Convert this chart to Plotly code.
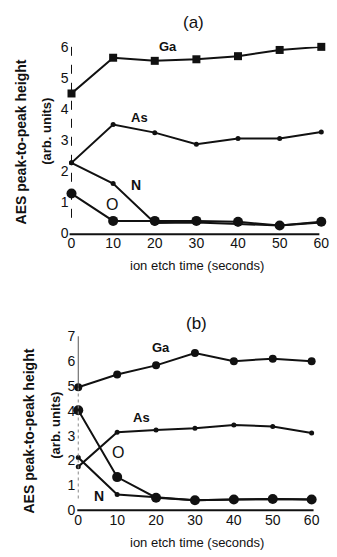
import plotly.graph_objects as go

W, H = 337, 557

# ---- data ----
time_s = [0, 10, 20, 30, 40, 50, 60]
x_ticks = [0, 10, 20, 30, 40, 50, 60]

a_Ga = [4.5, 5.65, 5.55, 5.6, 5.7, 5.9, 6.0]
a_As = [2.27, 3.5, 3.24, 2.87, 3.05, 3.05, 3.26]
a_N = [2.27, 1.6, 0.33, 0.35, 0.3, 0.25, 0.35]
a_O = [1.28, 0.4, 0.4, 0.4, 0.37, 0.25, 0.37]
a_yticks = [0, 1, 2, 3, 4, 5, 6]

b_Ga = [4.95, 5.46, 5.83, 6.33, 6.0, 6.1, 6.0]
b_As = [1.75, 3.14, 3.23, 3.3, 3.43, 3.37, 3.11]
b_O = [4.02, 1.33, 0.5, 0.4, 0.43, 0.45, 0.43]
b_N = [2.12, 0.63, 0.52, 0.4, 0.43, 0.45, 0.43]
b_yticks = [0, 1, 2, 3, 4, 5, 6, 7]

FONT = "Liberation Sans"
INK = "#111111"


def px(x):
    return x / W


def py(y):
    return 1 - y / H


fig = go.Figure()

def add_series(xs, ys, xa, ya, size, symbol="circle", width=2):
    fig.add_trace(go.Scatter(
        x=xs, y=ys, xaxis=xa, yaxis=ya, mode="lines+markers",
        line=dict(color=INK, width=width),
        marker=dict(color=INK, size=size, symbol=symbol),
        cliponaxis=False, showlegend=False, hoverinfo="skip"))

# panel (a)
add_series(time_s, a_Ga, "x", "y", 8, "square")
add_series(time_s, a_As, "x", "y", 5)
add_series(time_s, a_N, "x", "y", 5)
add_series(time_s, a_O, "x", "y", 10)
# panel (b)
add_series(time_s, b_Ga, "x2", "y2", 8)
add_series(time_s, b_As, "x2", "y2", 5)
add_series(time_s, b_N, "x2", "y2", 5)
add_series(time_s, b_O, "x2", "y2", 10)

axis_font = dict(family=FONT, size=14, color=INK)

fig.update_layout(
    width=W, height=H, margin=dict(l=0, r=0, t=0, b=0),
    paper_bgcolor="white", plot_bgcolor="white",
    font=dict(family=FONT, color=INK),
    xaxis=dict(domain=[px(70), px(329)], range=[0, 60], tickvals=x_ticks,
               showgrid=False, zeroline=False, showline=False, ticks="",
               tickfont=axis_font, anchor="y"),
    yaxis=dict(domain=[py(232), py(40)], range=[0, 6], tickvals=a_yticks,
               showgrid=False, zeroline=False, showline=False, ticks="",
               tickfont=axis_font, anchor="x", ticklabelstandoff=2),
    xaxis2=dict(domain=[px(77), px(319)], range=[0, 60], tickvals=x_ticks,
                showgrid=False, zeroline=False, showline=False, ticks="",
                tickfont=axis_font, anchor="y2"),
    yaxis2=dict(domain=[py(517), py(338)], range=[0, 7], tickvals=b_yticks,
                showgrid=False, zeroline=False, showline=False, ticks="",
                tickfont=axis_font, anchor="x2", ticklabelstandoff=2),
)

# axis lines: solid baseline, dashed vertical axis
fig.add_shape(type="line", xref="paper", yref="paper",
              x0=px(68), x1=px(327), y0=py(233), y1=py(233),
              line=dict(color=INK, width=2))
fig.add_shape(type="line", xref="paper", yref="paper",
              x0=px(70), x1=px(70), y0=py(216), y1=py(40),
              line=dict(color=INK, width=1, dash="dash"))
fig.add_shape(type="line", xref="paper", yref="paper",
              x0=px(76), x1=px(321), y0=py(517), y1=py(517),
              line=dict(color=INK, width=2))
fig.add_shape(type="line", xref="paper", yref="paper",
              x0=px(77), x1=px(77), y0=py(390), y1=py(338),
              line=dict(color="#555555", width=1))
fig.add_shape(type="line", xref="paper", yref="paper",
              x0=px(77), x1=px(77), y0=py(505), y1=py(390),
              line=dict(color="#888888", width=1, dash="dot"))

def label(text, x, y, size=13, angle=0):
    fig.add_annotation(text=text, xref="paper", yref="paper",
                       x=px(x), y=py(y), showarrow=False,
                       xanchor="center", yanchor="middle", textangle=angle,
                       font=dict(family=FONT, size=size, color=INK))

# panel titles
label("(a)", 197, 15, 17)
label("(b)", 200, 325, 17)
# series labels
label("<b>Ga</b>", 170, 40)
label("<b>As</b>", 140, 113)
label("<b>N</b>", 137, 182, 14)
label("O", 112, 202, 16)
label("<b>Ga</b>", 163, 350)
label("<b>As</b>", 143, 422)
label("O", 118, 458, 16)
label("<b>N</b>", 98, 502, 14)
# axis titles
label("<b>AES peak-to-peak height</b>", 18, 138, 14, -90)
label("<b>(arb. units)</b>", 44, 127, 13, -90)
label("ion etch time (seconds)", 200, 265, 13)
label("<b>AES peak-to-peak height</b>", 26, 436, 14, -90)
label("<b>(arb. units)</b>", 54, 430, 13, -90)
label("ion etch time (seconds)", 200, 550, 13)

fig.write_html(
    "out.html",
    config={"displayModeBar": False, "staticPlot": True},
    post_script=(
        "document.documentElement.style.margin='0';"
        "document.documentElement.style.overflow='hidden';"
        "document.body.style.margin='0';"
        "document.body.style.padding='0';"
        "document.body.style.overflow='hidden';"
    ),
)
